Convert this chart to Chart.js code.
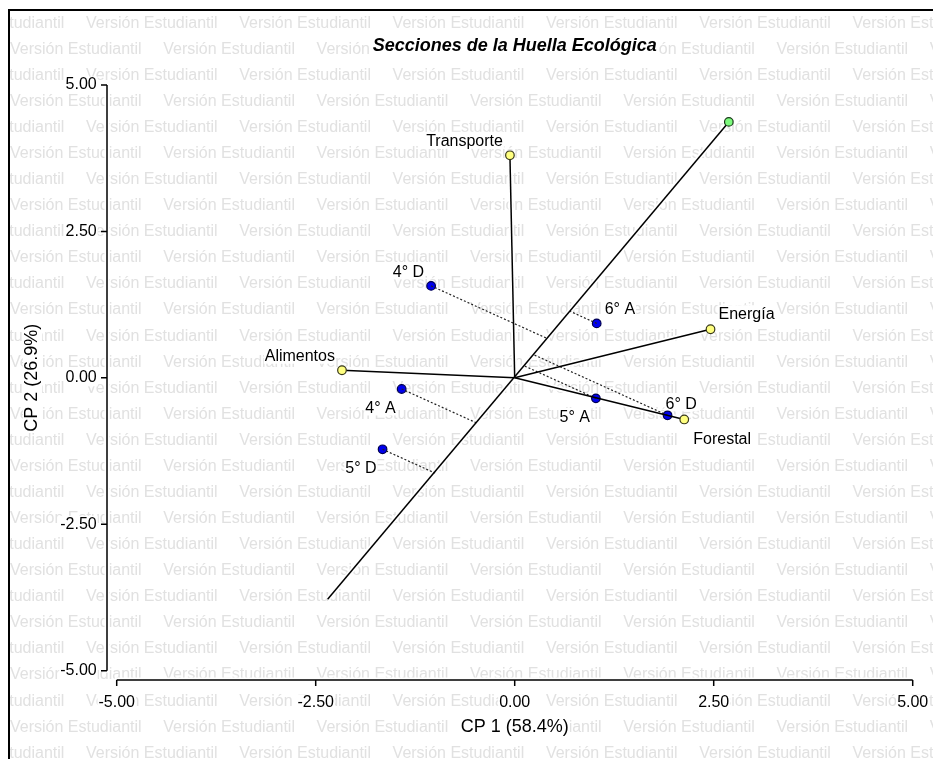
<!DOCTYPE html>
<html>
<head>
<meta charset="utf-8">
<script src="https://cdn.jsdelivr.net/npm/chart.js@4.4.1/dist/chart.umd.min.js"></script>
<style>
html,body{margin:0;padding:0;background:#fff;}
canvas{display:block;}
</style>
</head>
<body>
<canvas id="c" width="933" height="759"></canvas>
<script>
// ---- data ----
const chartTitle = 'Secciones de la Huella Ecológica';
const xTitle = 'CP 1 (58.4%)';
const yTitle = 'CP 2 (26.9%)';
const xTickValues = [-5, -2.5, 0, 2.5, 5];
const yTickValues = [-5, -2.5, 0, 2.5, 5];

const obsNames = ['4° D', '6° A', '4° A', '5° D', '5° A', '6° D'];
const obsX = [-1.05, 1.03, -1.42, -1.66, 1.02, 1.92];
const obsY = [1.57, 0.93, -0.19, -1.22, -0.35, -0.64];
const obsLabelAnchor = ['ul', 'ur', 'dl', 'dl', 'dl', 'u'];

const varNames = ['Transporte', 'Alimentos', 'Energía', 'Forestal'];
const varX = [-0.06, -2.17, 2.46, 2.13];
const varY = [3.80, 0.13, 0.83, -0.71];
const varLabelAnchor = ['ul', 'ul', 'ur', 'dr'];

const axisTipX = 2.69, axisTipY = 4.37;     // green point (projection axis)
const axisTailX = -2.35, axisTailY = -3.78; // opposite end of that axis

const watermarkText = 'Versión Estudiantil';

// ---- styling ----
const FONT = "'Liberation Sans', Arial, Helvetica, sans-serif";

function footOnAxis(x, y) {
  const t = (x * axisTipX + y * axisTipY) / (axisTipX * axisTipX + axisTipY * axisTipY);
  return { x: t * axisTipX, y: t * axisTipY };
}

const datasets = [];
// variable points (top)
datasets.push({
  label: 'Variables', data: varX.map((x, i) => ({ x, y: varY[i] })),
  pointRadius: 4.3, pointBackgroundColor: '#ffff80', pointBorderColor: '#3a3a1a', pointBorderWidth: 1.2,
  showLine: false, order: 0
});
datasets.push({
  label: 'Eje', data: [{ x: axisTipX, y: axisTipY }],
  pointRadius: 4.3, pointBackgroundColor: '#7dfa7d', pointBorderColor: '#1a3a1a', pointBorderWidth: 1.2,
  showLine: false, order: 0
});
// solid vector lines
varX.forEach((x, i) => {
  datasets.push({ label: 'v' + i, data: [{ x: 0, y: 0 }, { x, y: varY[i] }], showLine: true,
    pointRadius: 0, borderColor: '#000', borderWidth: 1.5, order: 4 });
  datasets.push({ label: 'h' + i, data: [{ x: 0, y: 0 }, { x, y: varY[i] }], showLine: true,
    pointRadius: 0, borderColor: '#fff', borderWidth: 5, order: 10 });
});
datasets.push({ label: 'axis', data: [{ x: axisTailX, y: axisTailY }, { x: axisTipX, y: axisTipY }], showLine: true,
  pointRadius: 0, borderColor: '#000', borderWidth: 1.5, order: 4 });
datasets.push({ label: 'axish', data: [{ x: axisTailX, y: axisTailY }, { x: axisTipX, y: axisTipY }], showLine: true,
  pointRadius: 0, borderColor: '#fff', borderWidth: 5, order: 10 });
// observation points (under the solid lines)
datasets.push({
  label: 'Observaciones', data: obsX.map((x, i) => ({ x, y: obsY[i] })),
  pointRadius: 4.3, pointBackgroundColor: '#0000ee', pointBorderColor: '#000050', pointBorderWidth: 1.2,
  showLine: false, order: 8
});
// dotted projections
obsX.forEach((x, i) => {
  const f = footOnAxis(x, obsY[i]);
  datasets.push({ label: 'p' + i, data: [{ x, y: obsY[i] }, f], showLine: true, pointRadius: 0,
    borderColor: '#222', borderWidth: 1.2, borderDash: [2, 2], order: 6 });
});

const AX_GAP_X = 9.7, AX_GAP_Y = 9.3, TICK_LEN = 6;
const XT_PAD = 22.5, YT_PAD = 20;

function labelPlacement(px, py, anchor, w) {
  switch (anchor) {
    case 'ul': return { left: px - 7 - w, cy: py - 15 };
    case 'ur': return { left: px + 8, cy: py - 15.5 };
    case 'dl': return { left: px - 6 - w, cy: py + 18 };
    case 'dr': return { left: px + 9, cy: py + 19 };
    default: return { left: px - 2, cy: py - 12.5 };
  }
}

function allLabels(chart) {
  const xs = chart.scales.x, ys = chart.scales.y, out = [];
  obsNames.forEach((n, i) => out.push({ text: n, px: xs.getPixelForValue(obsX[i]), py: ys.getPixelForValue(obsY[i]), a: obsLabelAnchor[i] }));
  varNames.forEach((n, i) => out.push({ text: n, px: xs.getPixelForValue(varX[i]), py: ys.getPixelForValue(varY[i]), a: varLabelAnchor[i] }));
  return out;
}

const decorPlugin = {
  id: 'decor',
  beforeDraw(chart) {
    const ctx = chart.ctx, W = chart.width, H = chart.height;
    const xs = chart.scales.x, ys = chart.scales.y, ca = chart.chartArea;
    ctx.save();
    ctx.fillStyle = '#fff';
    ctx.fillRect(0, 0, W, H);
    // watermark
    ctx.beginPath(); ctx.rect(10, 11, W - 10, H - 11); ctx.clip();
    ctx.font = '16px ' + FONT;
    ctx.fillStyle = '#e1e1e1';
    ctx.textBaseline = 'alphabetic'; ctx.textAlign = 'left';
    for (let r = 0; r < 30; r++) {
      const y = 27.7 + r * 26.07;
      const x0 = (r % 2 === 0) ? 86 - 153.3 : 10;
      for (let x = x0; x < W; x += 153.3) ctx.fillText(watermarkText, x, y);
    }
    ctx.restore();

    // white boxes behind texts
    ctx.save();
    ctx.fillStyle = '#fff';
    // title
    const tb = chart.titleBlock;
    ctx.font = 'italic bold 18px ' + FONT;
    let w = ctx.measureText(chartTitle).width;
    const tcy = tb.top + tb.options.padding.top + 10.8;
    ctx.fillRect((tb.left + tb.right) / 2 - w / 2 - 2, tcy - 10, w + 4, 20);
    // tick labels
    ctx.font = '16px ' + FONT;
    xTickValues.forEach(v => {
      const t = v.toFixed(2); const tw = ctx.measureText(t).width;
      const px = xs.getPixelForValue(v), cy = xs.top + XT_PAD + 9.6;
      ctx.fillRect(px - tw / 2 - 1, cy - 8.5, tw + 2, 17);
    });
    yTickValues.forEach(v => {
      const t = v.toFixed(2); const tw = ctx.measureText(t).width;
      const py = ys.getPixelForValue(v), right = ys.right - YT_PAD;
      ctx.fillRect(right - tw - 1, py - 8.5, tw + 2, 17);
    });
    // axis titles
    ctx.font = '18px ' + FONT;
    w = ctx.measureText(xTitle).width;
    const xcy = xs.bottom - 10.8 - xs.options.title.padding.bottom;
    ctx.fillRect((ca.left + ca.right) / 2 - w / 2 - 1, xcy - 9.5, w + 2, 19);
    w = ctx.measureText(yTitle).width;
    const ycx = ys.left + 10.8 + ys.options.title.padding.top;
    ctx.fillRect(ycx - 9.5, (ca.top + ca.bottom) / 2 - w / 2 - 1, 19, w + 2);
    // point labels
    ctx.font = '16px ' + FONT;
    allLabels(chart).forEach(L => {
      const tw = ctx.measureText(L.text).width;
      const p = labelPlacement(L.px, L.py, L.a, tw);
      ctx.fillRect(p.left - 1, p.cy - 8.5, tw + 2, 17);
    });
    // detached axis halos
    const ax = ca.left - AX_GAP_X, ay = ca.bottom + AX_GAP_Y;
    ctx.fillRect(ax - 2.5, ys.getPixelForValue(5) - 2, 5, ys.getPixelForValue(-5) - ys.getPixelForValue(5) + 4);
    ctx.fillRect(xs.getPixelForValue(-5) - 2, ay - 2.5, xs.getPixelForValue(5) - xs.getPixelForValue(-5) + 4, 5);
    ctx.restore();
  },
  afterDraw(chart) {
    const ctx = chart.ctx, W = chart.width, H = chart.height;
    const xs = chart.scales.x, ys = chart.scales.y, ca = chart.chartArea;
    ctx.save();
    // detached axes
    const ax = ca.left - AX_GAP_X, ay = ca.bottom + AX_GAP_Y;
    ctx.strokeStyle = '#000'; ctx.lineWidth = 1.5; ctx.lineCap = 'butt';
    ctx.beginPath();
    ctx.moveTo(ax, ys.getPixelForValue(5)); ctx.lineTo(ax, ys.getPixelForValue(-5));
    yTickValues.forEach(v => { const py = ys.getPixelForValue(v); ctx.moveTo(ax, py); ctx.lineTo(ax - TICK_LEN, py); });
    ctx.moveTo(xs.getPixelForValue(-5), ay); ctx.lineTo(xs.getPixelForValue(5), ay);
    xTickValues.forEach(v => { const px = xs.getPixelForValue(v); ctx.moveTo(px, ay); ctx.lineTo(px, ay + TICK_LEN); });
    ctx.stroke();
    // point labels
    ctx.font = '16px ' + FONT;
    ctx.fillStyle = '#000'; ctx.textAlign = 'left'; ctx.textBaseline = 'alphabetic';
    allLabels(chart).forEach(L => {
      const tw = ctx.measureText(L.text).width;
      const p = labelPlacement(L.px, L.py, L.a, tw);
      ctx.fillText(L.text, p.left, p.cy + 5.7);
    });
    // outer frame (left and top)
    ctx.fillStyle = '#000';
    ctx.fillRect(8, 9, 2, H - 9);
    ctx.fillRect(8, 9, W - 8, 2);
    ctx.restore();
  }
};

new Chart(document.getElementById('c'), {
  type: 'scatter',
  data: { datasets },
  options: {
    responsive: false,
    animation: false,
    events: [],
    layout: { padding: { left: 0, right: 20.3, top: 0, bottom: 0 } },
    plugins: {
      legend: { display: false },
      tooltip: { enabled: false },
      title: {
        display: true, text: chartTitle, fullSize: false, color: '#000',
        font: { family: FONT, size: 18, weight: 'bold', style: 'italic', lineHeight: 1.2 },
        padding: { top: 35, bottom: 28.4 }
      }
    },
    scales: {
      x: {
        type: 'linear', position: 'bottom', min: -5, max: 5,
        grid: { display: false, drawTicks: false }, border: { display: false },
        ticks: { color: '#000', font: { family: FONT, size: 16, lineHeight: 1.2 }, padding: XT_PAD,
          maxRotation: 0, autoSkip: false, callback: v => Number(v).toFixed(2) },
        afterBuildTicks: s => { s.ticks = xTickValues.map(v => ({ value: v })); },
        afterFit: s => { s.height = 88.3; s.paddingLeft = 0; s.paddingRight = 0; },
        title: { display: true, text: xTitle, color: '#000', font: { family: FONT, size: 18, lineHeight: 1.2 },
          padding: { top: 0, bottom: 21.5 } }
      },
      y: {
        type: 'linear', position: 'left', min: -5, max: 5,
        grid: { display: false, drawTicks: false }, border: { display: false },
        ticks: { color: '#000', font: { family: FONT, size: 16, lineHeight: 1.2 }, padding: YT_PAD,
          autoSkip: false, callback: v => Number(v).toFixed(2) },
        afterBuildTicks: s => { s.ticks = yTickValues.map(v => ({ value: v })); },
        afterFit: s => { s.width = 116.7; s.paddingTop = 0; s.paddingBottom = 0; },
        title: { display: true, text: yTitle, color: '#000', font: { family: FONT, size: 18, lineHeight: 1.2 },
          padding: { top: 21.7, bottom: 0 } }
      }
    }
  },
  plugins: [decorPlugin]
});
</script>
</body>
</html>
